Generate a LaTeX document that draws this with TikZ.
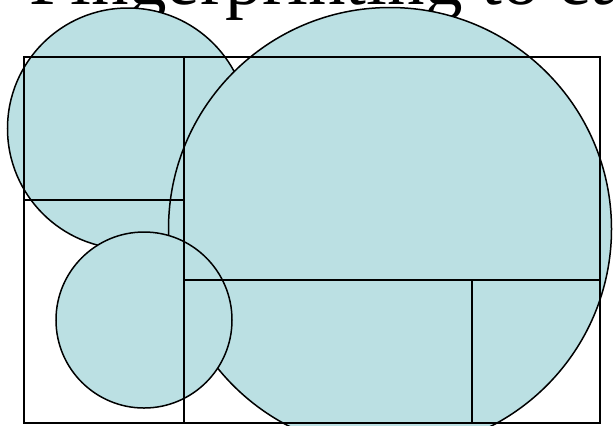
\documentclass[tikz,border=0pt]{standalone}
\usepackage{fontspec}
\setmainfont{Liberation Serif}
\usepackage{tikz}
\definecolor{cellblue}{RGB}{187,224,227}

\begin{document}
\begin{tikzpicture}[x=1bp,y=-1bp,
		disc/.style={fill=cellblue,draw=black,line width=1.5bp},
		frame/.style={draw=black,line width=1.7bp}]
	\useasboundingbox (0,0) rectangle (613,425);
	% title, mostly off the page
	\node[anchor=base west,inner sep=0pt,font=\fontsize{75bp}{90bp}\selectfont] (title) at (29,4) {Fingerprinting to ea};
	% circles
	\draw[disc] (128,128.5) circle[radius=120.5bp];
	\draw[disc] (390,229) circle[radius=221.5bp];
	\draw[disc] (144,320) circle[radius=88bp];
	% cells
	\draw[frame] (24,57) rectangle (600,423);
	\draw[frame] (184,57) -- (184,423);
	\draw[frame] (24,200) -- (184,200);
	\draw[frame] (184,280) -- (600,280);
	\draw[frame] (472,280) -- (472,423);
\end{tikzpicture}
\end{document}
